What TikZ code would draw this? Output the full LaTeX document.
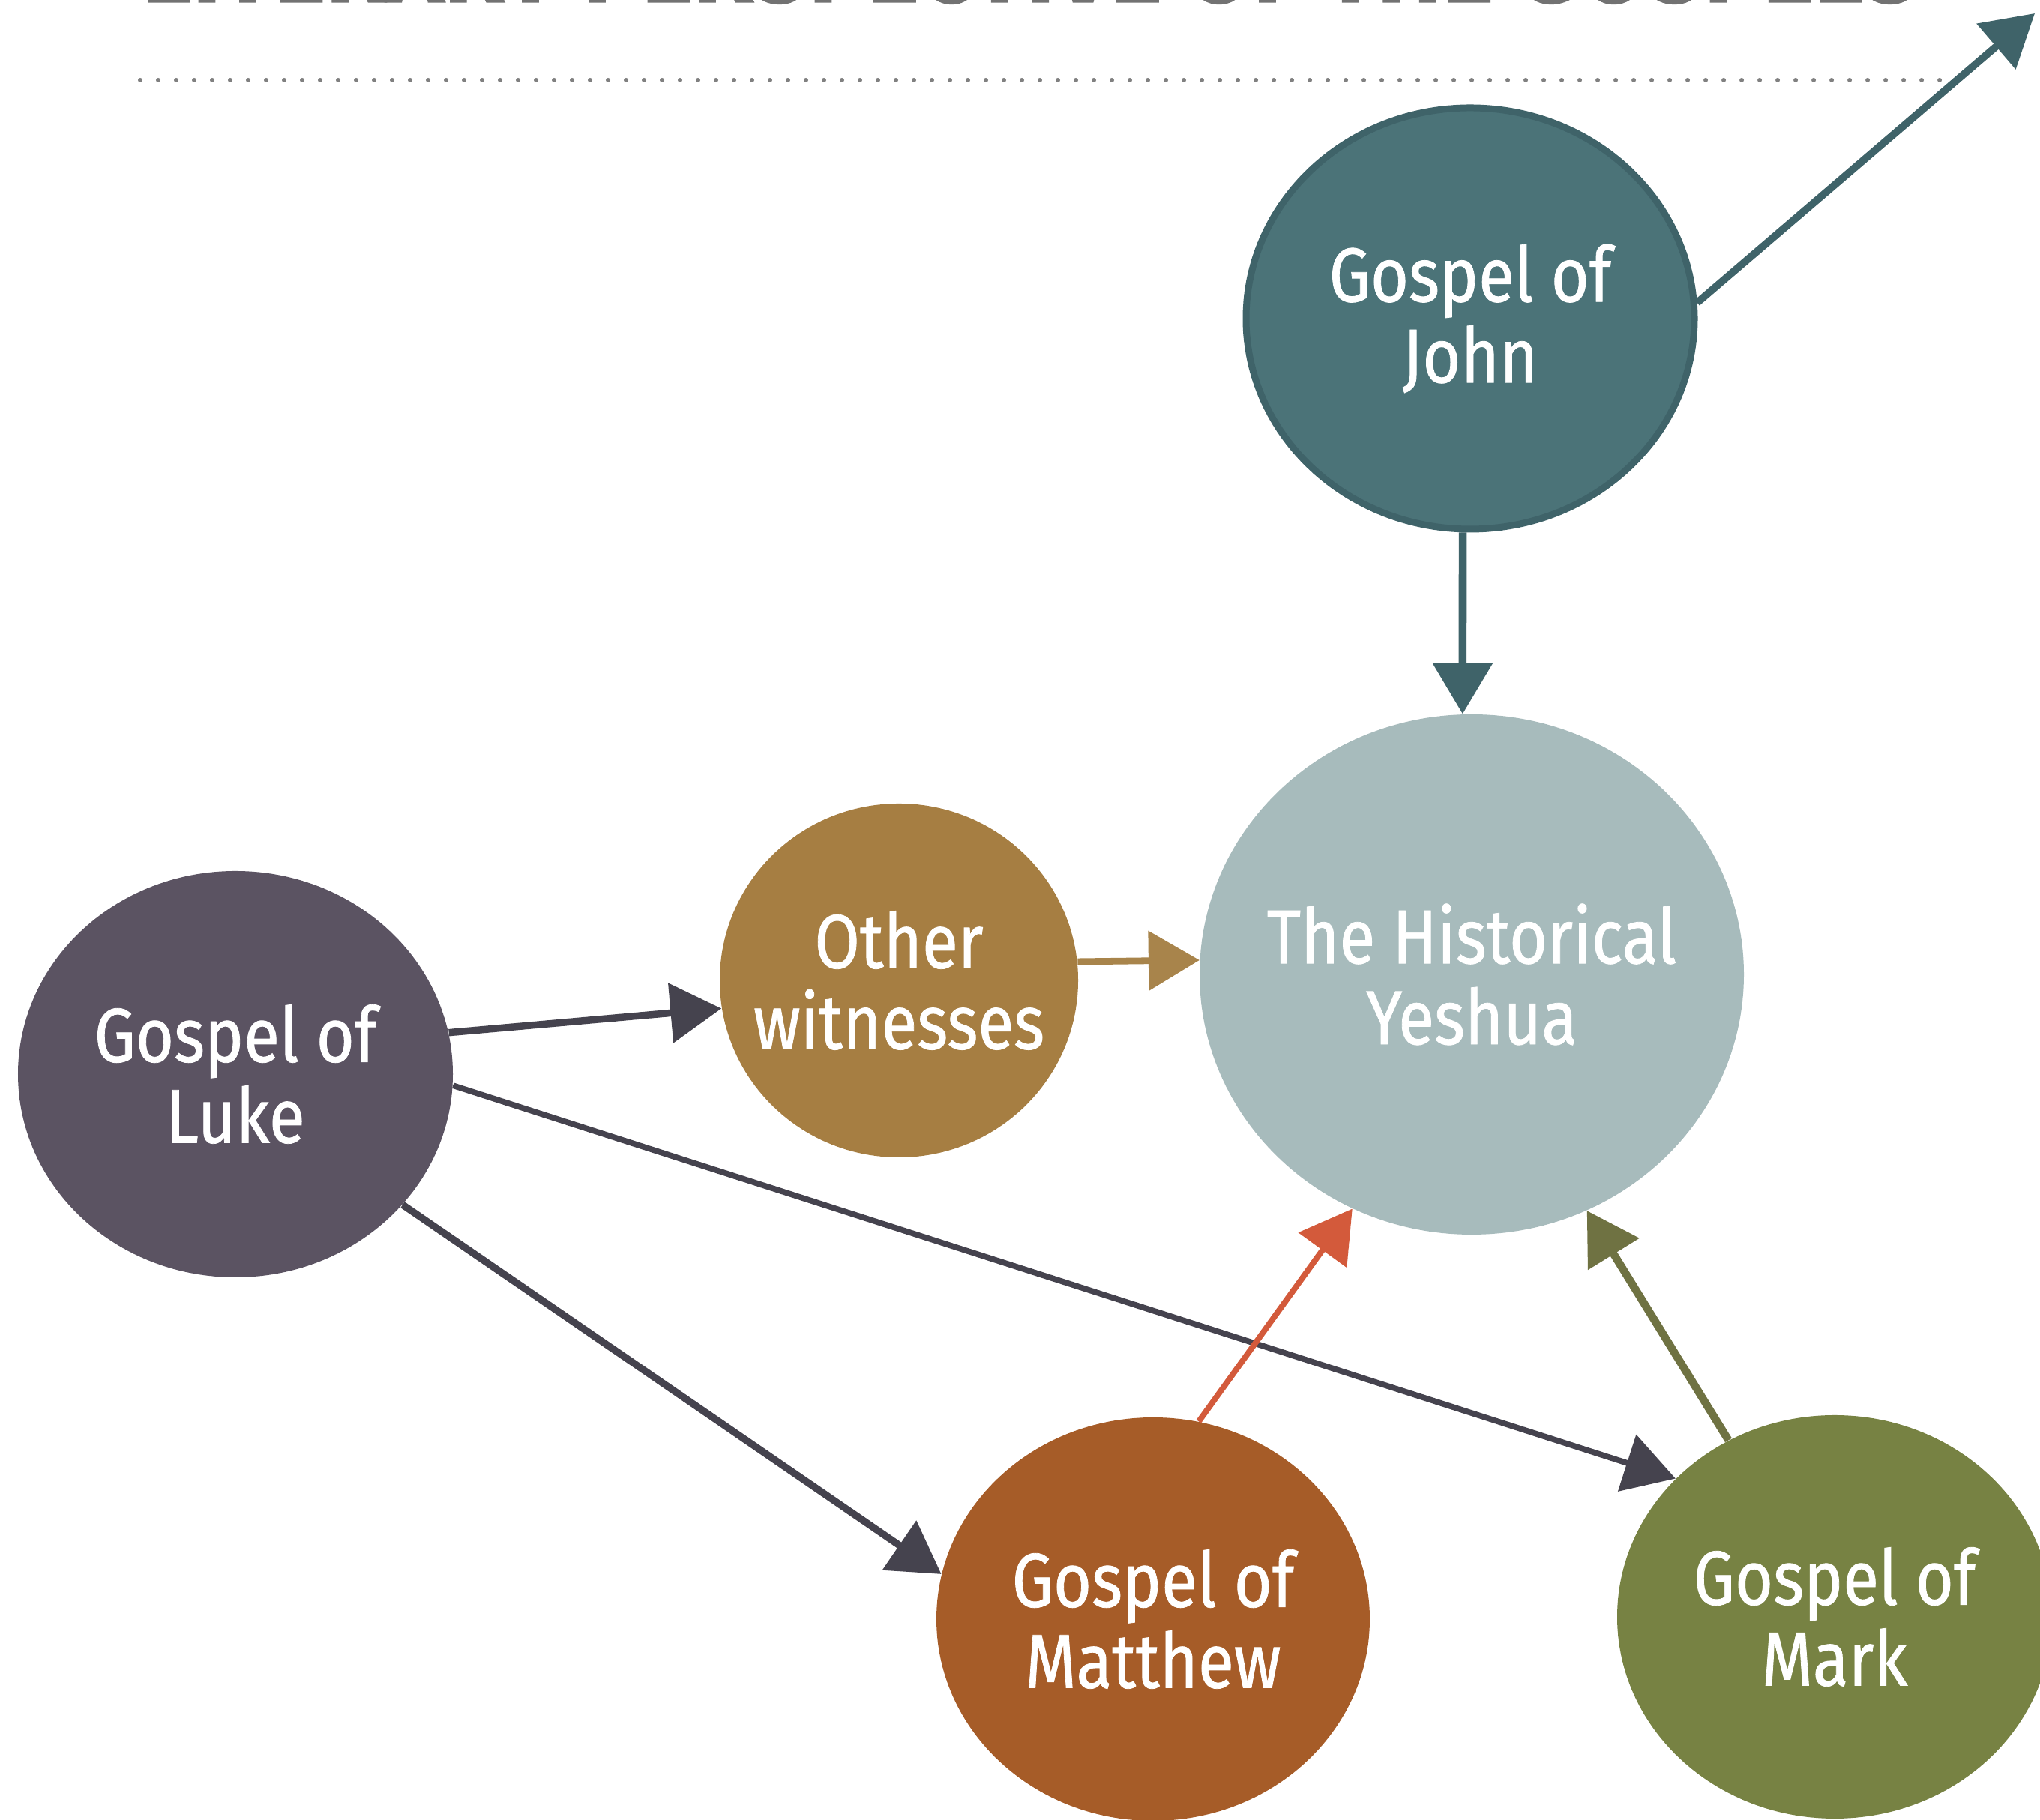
\documentclass[tikz,border=0pt]{standalone}
\usepackage{fontspec}
\usetikzlibrary{shapes.geometric,arrows.meta}
\newfontfamily\gospelfont{Fira Sans}[FakeStretch=0.86,FakeBold=0.8]

\definecolor{johnfill}{HTML}{4B7378}
\definecolor{johnedge}{HTML}{3F6369}
\definecolor{yeshuafill}{HTML}{A7BBBC}
\definecolor{otherfill}{HTML}{A67E42}
\definecolor{lukefill}{HTML}{5B5362}
\definecolor{matthewfill}{HTML}{A65C28}
\definecolor{markfill}{HTML}{778243}
\definecolor{lukeedge}{HTML}{45434E}
\definecolor{matthewedge}{HTML}{D35A3B}
\definecolor{markedge}{HTML}{6F7242}
\definecolor{otheredge}{HTML}{A8844B}
\definecolor{titlegray}{HTML}{727272}

\tikzset{
  gospel/.style={ellipse, inner xsep=-1.5cm, inner ysep=-0.8cm, text=white, align=center,
    font=\gospelfont\fontsize{29}{30.7}\selectfont},
  gosarrow/.style={-{Triangle[length=0.68cm,width=0.78cm]}, line width=2.7pt},
}

\begin{document}
\begin{tikzpicture}
  \useasboundingbox (0,0) rectangle (27.21,24.28);
  % title, cut off at the top of the page
  \node [anchor=base west, inner sep=0pt, text=titlegray] (title) at (1.89,24.25)
    {\resizebox{23.7cm}{!}{\gospelfont\bfseries LITERARY PERSPECTIVE OF THE GOSPELS}};
  \coordinate (rule_l) at (1.87,23.21);
  \coordinate (rule_r) at (25.98,23.21);
  \draw [titlegray!90, line width=0.06cm, line cap=round, dash pattern=on 0pt off 0.24cm] (rule_l) -- (rule_r);

  \node [gospel, fill=johnfill, draw=johnedge, line width=0.09cm,
    minimum width=5.98cm, minimum height=5.62cm] (john) at (19.61,20.03) {Gospel of\\John};
  \node [gospel, fill=yeshuafill, minimum width=7.26cm, minimum height=6.94cm] (yeshua) at (19.63,11.28) {The Historical\\Yeshua};
  \node [gospel, fill=otherfill, minimum width=4.78cm, minimum height=4.72cm] (other) at (11.99,11.20) {Other\\witnesses};
  \node [gospel, fill=lukefill, minimum width=5.80cm, minimum height=5.42cm] (luke) at (3.14,9.95) {Gospel of\\Luke};
  \node [gospel, fill=matthewfill, minimum width=5.78cm, minimum height=5.38cm] (matthew) at (15.38,2.68) {Gospel of\\Matthew};
  \node [gospel, fill=markfill, minimum width=5.80cm, minimum height=5.38cm] (mark) at (24.47,2.71) {Gospel of\\Mark};
  \coordinate (offpage) at (27.14,24.10);

  \path [gosarrow]
    (luke.11) edge [lukeedge] (other.189)
    (luke.-3) edge [lukeedge, line width=2.2pt] (mark.139)
    (luke.-38) edge [lukeedge] (matthew.168)
    (other.6) edge [otheredge, line width=2.5pt] (yeshua.177)
    (matthew.77) edge [matthewedge, line width=2.2pt] (yeshua.243)
    (mark.121) edge [markedge, line width=3pt] (yeshua.296)
    (john.268) edge [johnedge, line width=3pt] (yeshua.92)
    (john.4) edge [johnedge, line width=2.8pt] (offpage);
\end{tikzpicture}
\end{document}
